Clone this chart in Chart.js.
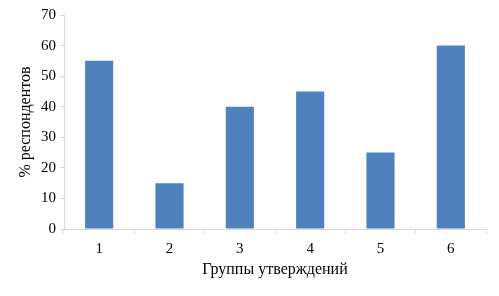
<!DOCTYPE html>
<html>
<head>
<meta charset="utf-8">
<script src="https://cdn.jsdelivr.net/npm/chart.js@4"></script>
<style>
  html, body { margin: 0; padding: 0; background: #fff; }
  #wrap { width: 499px; height: 296px; }
</style>
</head>
<body>
<div id="wrap"><canvas id="chart" width="499" height="296"></canvas></div>
<script>
// Chart data
const groups = ['1', '2', '3', '4', '5', '6'];
const respondents = [55, 15, 40, 45, 25, 60];
const yTicks = [0, 10, 20, 30, 40, 50, 60, 70];

const axisColor = '#d9d9d9';
const serif = '"Liberation Serif", "Times New Roman", serif';

new Chart(document.getElementById('chart'), {
    type: 'bar',
    data: {
        labels: groups,
        datasets: [{
            data: respondents,
            backgroundColor: '#4f81bd',
            borderWidth: 0,
            barPercentage: 0.4,
            categoryPercentage: 1.0
        }]
    },
    options: {
        responsive: false,
        animation: false,
        layout: { padding: { top: 15, right: 13, left: 16, bottom: 17 } },
        plugins: {
            legend: { display: false },
            tooltip: { enabled: false }
        },
        scales: {
            x: {
                grid: {
                    offset: true,
                    drawOnChartArea: false,
                    tickLength: 5,
                    color: axisColor
                },
                border: { color: axisColor, width: 1 },
                ticks: { color: '#000', font: { family: serif, size: 15 }, padding: 6 },
                title: {
                    display: true,
                    text: 'Группы утверждений',
                    color: '#000',
                    font: { family: serif, size: 16 },
                    padding: 0
                },
                afterFit: (scale) => { scale.height = 296 - 229 - 17; }
            },
            y: {
                min: 0,
                max: 70,
                afterBuildTicks: (scale) => {
                    scale.ticks = yTicks.map(v => ({ value: v }));
                },
                grid: {
                    drawOnChartArea: false,
                    tickLength: 4,
                    color: axisColor
                },
                border: { color: axisColor, width: 1 },
                ticks: { color: '#000', font: { family: serif, size: 15 }, padding: 4 },
                title: {
                    display: true,
                    text: '% респондентов',
                    color: '#000',
                    font: { family: serif, size: 16 },
                    padding: 0
                },
                afterFit: (scale) => { scale.width = 64 - 16; }
            }
        }
    }
});
</script>
</body>
</html>
